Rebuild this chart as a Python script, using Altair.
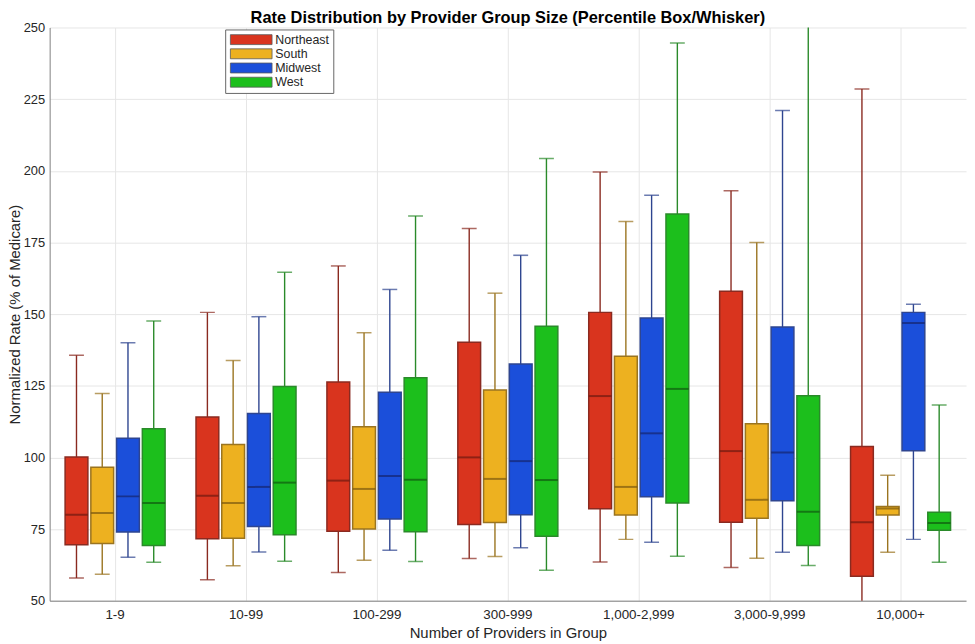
import altair as alt
import pandas as pd

groups = ["1-9", "10-99", "100-299", "300-999", "1,000-2,999", "3,000-9,999", "10,000+"]
regions = ["Northeast", "South", "Midwest", "West"]

# Percentile statistics (whisker low, Q1, median, Q3, whisker high)
ne_low = [57.9, 57.3, 59.8, 64.7, 63.5, 61.6, 45.0]
ne_q1 = [69.5, 71.6, 74.2, 76.6, 82.1, 77.4, 58.5]
ne_med = [80.0, 86.6, 91.9, 100.0, 121.4, 102.2, 77.4]
ne_q3 = [100.1, 114.1, 126.3, 140.2, 150.6, 158.0, 103.8]
ne_high = [135.6, 150.6, 166.8, 179.9, 199.6, 193.0, 228.5]

so_low = [59.2, 62.2, 64.1, 65.4, 71.4, 64.8, 66.9]
so_q1 = [70.0, 71.8, 75.0, 77.3, 79.9, 78.8, 79.9]
so_med = [80.6, 84.1, 89.0, 92.5, 89.7, 85.2, 82.2]
so_q3 = [96.6, 104.5, 110.7, 123.5, 135.3, 111.7, 82.9]
so_high = [122.3, 133.8, 143.5, 157.3, 182.3, 175.0, 93.8]

mw_low = [65.2, 67.0, 67.6, 68.5, 70.4, 66.9, 71.4]
mw_q1 = [74.0, 75.9, 78.5, 80.0, 86.3, 84.9, 102.3]
mw_med = [86.4, 89.7, 93.5, 98.7, 108.4, 101.7, 146.9]
mw_q3 = [106.7, 115.3, 122.7, 132.6, 148.6, 145.5, 150.6]
mw_high = [140.0, 149.1, 158.6, 170.5, 191.5, 221.0, 153.4]

we_low = [63.4, 63.8, 63.7, 60.6, 65.5, 62.3, 63.4]
we_q1 = [69.3, 73.0, 74.1, 72.5, 84.1, 69.3, 74.6]
we_med = [84.1, 91.2, 92.2, 92.1, 123.9, 81.0, 77.1]
we_q3 = [110.0, 124.7, 127.8, 145.8, 184.9, 121.5, 80.9]
we_high = [147.6, 164.6, 184.2, 204.3, 244.6, 262.0, 118.3]

fill_colors = ["#D9341E", "#EDB120", "#1B4FDA", "#1CBF1C"]
line_colors = ["#8A2A20", "#9A7420", "#2E4590", "#2A8A2A"]
median_colors = ["#6E1A10", "#7A5810", "#15256E", "#0F5A0F"]

stats = {
    "Northeast": (ne_low, ne_q1, ne_med, ne_q3, ne_high),
    "South": (so_low, so_q1, so_med, so_q3, so_high),
    "Midwest": (mw_low, mw_q1, mw_med, mw_q3, mw_high),
    "West": (we_low, we_q1, we_med, we_q3, we_high),
}
rows = []
for reg, (lo, q1, med, q3, hi) in stats.items():
    for i, g in enumerate(groups):
        rows.append({"group": g, "region": reg, "lo": lo[i], "q1": q1[i],
                     "med": med[i], "q3": q3[i], "hi": hi[i]})
df = pd.DataFrame(rows)

FONT = "Liberation Sans"

x_enc = alt.X(
    "group:N", sort=groups,
    scale=alt.Scale(paddingInner=0, paddingOuter=0),
    axis=alt.Axis(title="Number of Providers in Group", labelAngle=0, grid=True,
                  ticks=False, labelPadding=7, titlePadding=5, labelFontSize=13.5),
)
xo_enc = alt.XOffset("region:N", sort=regions,
                     scale=alt.Scale(paddingInner=0.115, paddingOuter=0.6))
y_scale = alt.Scale(domain=[50, 250], nice=False, zero=False)
y_axis = alt.Axis(title="Normalized Rate (% of Medicare)", values=[50, 75, 100, 125, 150, 175, 200, 225, 250],
                  ticks=False, labelPadding=5, titlePadding=1)

base = alt.Chart(df)

whisker = base.mark_rule(strokeWidth=1.4, clip=True).encode(
    x=x_enc, xOffset=xo_enc,
    y=alt.Y("lo:Q", scale=y_scale, axis=y_axis), y2="hi:Q",
    color=alt.Color("region:N", sort=regions, scale=alt.Scale(domain=regions, range=line_colors), legend=None),
)
cap_lo = base.mark_tick(size=15, thickness=1.5, clip=True).encode(
    x=x_enc, xOffset=xo_enc,
    y=alt.Y("lo:Q", scale=y_scale),
    color=alt.Color("region:N", sort=regions, scale=alt.Scale(domain=regions, range=line_colors), legend=None),
)
cap_hi = base.mark_tick(size=15, thickness=1.5, clip=True).encode(
    x=x_enc, xOffset=xo_enc,
    y=alt.Y("hi:Q", scale=y_scale),
    color=alt.Color("region:N", sort=regions, scale=alt.Scale(domain=regions, range=line_colors), legend=None),
)
box = base.mark_bar(strokeWidth=1.5, clip=True).encode(
    x=x_enc, xOffset=xo_enc,
    y=alt.Y("q1:Q", scale=y_scale), y2="q3:Q",
    color=alt.Color("region:N", sort=regions, scale=alt.Scale(domain=regions, range=fill_colors),
                    legend=alt.Legend(title=None, orient="none", legendX=177, legendY=2,
                                      symbolType="M-4.2,-1H4.2V1H-4.2Z", symbolSize=100,
                                      symbolOffset=16, labelOffset=18, symbolStrokeWidth=0.8,
                                      symbolStrokeColor="#5a5a5a",
                                      labelFontSize=12.5, labelFont=FONT, labelColor="#262626",
                                      rowPadding=0.3, padding=4, strokeColor="#666666",
                                      fillColor="white")),
    stroke=alt.Stroke("region:N", sort=regions, scale=alt.Scale(domain=regions, range=line_colors), legend=None),
)
median = base.mark_tick(size=23, thickness=2, clip=True).encode(
    x=x_enc, xOffset=xo_enc,
    y=alt.Y("med:Q", scale=y_scale),
    color=alt.Color("region:N", sort=regions, scale=alt.Scale(domain=regions, range=median_colors), legend=None),
)

chart = alt.layer(whisker, cap_lo, cap_hi, box, median).resolve_scale(
    color="independent"
).properties(
    width=924, height=578,
    title=alt.Title("Rate Distribution by Provider Group Size (Percentile Box/Whisker)",
                    fontSize=16.5, font=FONT, fontWeight="bold", color="#000000", offset=-5),
    autosize=alt.AutoSizeParams(type="none"),
    padding={"left": 42, "top": 17, "right": 1, "bottom": 40},
).configure_view(stroke=None).configure_axis(
    labelFont=FONT, labelFontSize=13, labelColor="#262626",
    titleFont=FONT, titleFontSize=15, titleFontWeight="normal", titleColor="#262626",
    gridColor="#E6E6E6", gridWidth=1, domainColor="#808080", domainWidth=1,
)

chart.save("out.html", embed_options={"renderer": "svg", "actions": False})
